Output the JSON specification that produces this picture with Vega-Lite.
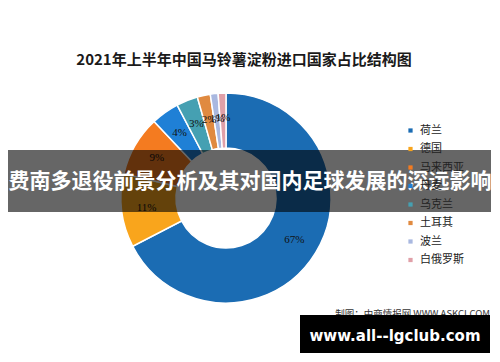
{
  "$schema": "https://vega.github.io/schema/vega-lite/v6.json",
  "width": 496,
  "height": 282,
  "autosize": {"type": "none"},
  "padding": {"left": 1, "top": 40, "right": 3, "bottom": 40},
  "background": "white",
  "config": {"view": {"stroke": "#a0a0a0", "strokeWidth": 1}},
  "title": {
    "text": "2021年上半年中国马铃薯淀粉进口国家占比结构图",
    "font": "Noto Sans CJK SC",
    "fontSize": 15,
    "fontWeight": "bold",
    "color": "#1a1a1a",
    "anchor": "middle",
    "frame": "group",
    "offset": -28,
    "dx": -5
  },
  "layer": [
    {
      "data": {
        "values": [
          {"idx": 1, "country": "荷兰", "value": 67.4, "label": "67%"},
          {"idx": 2, "country": "德国", "value": 11.3, "label": "11%"},
          {"idx": 3, "country": "马来西亚", "value": 9.3, "label": "9%"},
          {"idx": 4, "country": "丹麦", "value": 4.3, "label": "4%"},
          {"idx": 5, "country": "乌克兰", "value": 3.3, "label": "3%"},
          {"idx": 6, "country": "土耳其", "value": 2.0, "label": "2%"},
          {"idx": 7, "country": "波兰", "value": 1.2, "label": "1%"},
          {"idx": 8, "country": "白俄罗斯", "value": 1.2, "label": "1%"}
        ]
      },
      "layer": [
        {
          "mark": {"type": "arc", "innerRadius": 50, "outerRadius": 105, "stroke": "white", "strokeWidth": 1.5, "x": 225, "y": 158},
          "encoding": {
            "theta": {"field": "value", "type": "quantitative", "stack": true},
            "order": {"field": "idx", "type": "quantitative"},
            "color": {
              "field": "country",
              "type": "nominal",
              "sort": ["荷兰", "德国", "马来西亚", "丹麦", "乌克兰", "土耳其", "波兰", "白俄罗斯"],
              "scale": {
                "domain": ["荷兰", "德国", "马来西亚", "丹麦", "乌克兰", "土耳其", "波兰", "白俄罗斯"],
                "range": ["#1b6cb3", "#f9a51c", "#f47b20", "#1f80d6", "#45a0b2", "#e08a40", "#a9b8e0", "#e0a0a8"]
              },
              "legend": {
                "orient": "none",
                "legendX": 404,
                "legendY": 85,
                "title": null,
                "symbolType": "square",
                "symbolSize": 18,
                "symbolStrokeWidth": 0,
                "labelFont": "Noto Sans CJK SC",
                "labelFontSize": 11,
                "labelColor": "#222222",
                "rowPadding": 6.5,
                "labelOffset": 4
              }
            }
          }
        },
        {
          "mark": {"type": "text", "radius": 80, "x": 225, "y": 158, "font": "Liberation Serif", "fontSize": 11, "color": "#111111"},
          "encoding": {
            "theta": {"field": "value", "type": "quantitative", "stack": true},
            "order": {"field": "idx", "type": "quantitative"},
            "detail": {"field": "country", "type": "nominal"},
            "text": {"field": "label", "type": "nominal"}
          }
        }
      ]
    },
    {
      "data": {"values": [{"src": "制图：中商情报网 WWW.ASKCI.COM"}]},
      "mark": {"type": "text", "x": 489, "y": 274, "align": "right", "baseline": "middle", "font": "Noto Sans CJK SC", "fontSize": 9.5, "color": "#333333"},
      "encoding": {"text": {"field": "src", "type": "nominal"}}
    },
    {
      "data": {"values": [{"t": "费南多退役前景分析及其对国内足球发展的深远影响"}]},
      "layer": [
        {
          "mark": {"type": "rect", "x": 7, "x2": 490, "y": 110, "y2": 172, "fill": "black", "opacity": 0.6},
          "encoding": {}
        },
        {
          "mark": {"type": "text", "x": 249, "y": 142, "align": "center", "baseline": "middle", "font": "Noto Sans CJK SC", "fontWeight": "bold", "fontSize": 21, "color": "white"},
          "encoding": {"text": {"field": "t", "type": "nominal"}}
        }
      ]
    },
    {
      "data": {"values": [{"t": "www.all--lgclub.com"}]},
      "layer": [
        {
          "mark": {"type": "rect", "x": 299, "x2": 489, "y": 275, "y2": 313, "fill": "black", "clip": false},
          "encoding": {}
        },
        {
          "mark": {"type": "text", "x": 394, "y": 296, "align": "center", "baseline": "middle", "font": "DejaVu Sans", "fontWeight": "bold", "fontSize": 15, "color": "white"},
          "encoding": {"text": {"field": "t", "type": "nominal"}}
        }
      ]
    }
  ]
}
